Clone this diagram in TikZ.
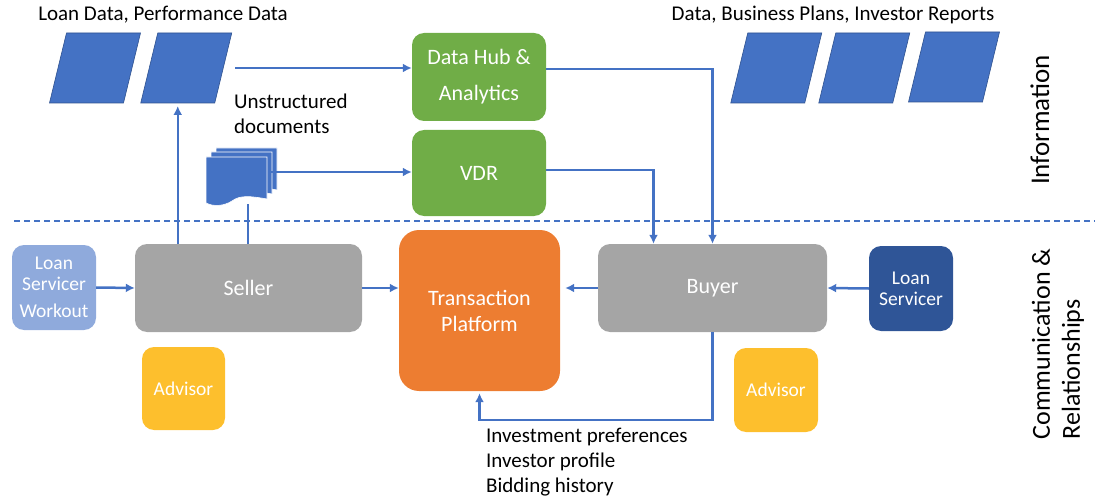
\documentclass[tikz,border=0pt]{standalone}
\usepackage{fontspec}
\setmainfont{Carlito}
\usepackage{tikz}
\usetikzlibrary{arrows.meta,positioning,calc}

\definecolor{msblue}{HTML}{4472C4}
\definecolor{msblueline}{HTML}{2F528F}
\definecolor{msgreen}{HTML}{70AD47}
\definecolor{msgrey}{HTML}{A5A5A5}
\definecolor{msorange}{HTML}{ED7D31}
\definecolor{msgold}{HTML}{FDBF2D}
\definecolor{mslight}{HTML}{8FAADC}
\definecolor{msdark}{HTML}{2F5597}

\begin{document}
\begin{tikzpicture}[
      x=1pt, y=-1pt,
      box/.style = {
        rectangle, rounded corners=12pt, text=white, align=center,
        inner sep=0pt, font=\fontsize{22pt}{26pt}\selectfont,
      },
      smallbox/.style = {
        box, minimum width=84pt, minimum height=85pt,
        font=\fontsize{19.5pt}{21pt}\selectfont,
      },
      datasheet/.pic = {
        \fill[msblue, draw=msblueline, line width=.6pt]
          (-28.5,-35) -- (45.5,-35) -- (28.5,35) -- (-45.5,35) -- cycle;
        \coordinate (-south) at (-8.5,35);
        \coordinate (-east) at (37,0);
      },
      caption/.style = {
        font=\fontsize{21pt}{25pt}\selectfont, inner sep=0pt,
      },
      flow/.style = {
        msblue, line width=2.5pt, -{Latex[length=9pt,width=9pt]},
      },
      plain/.style = {
        msblue, line width=2.5pt,
      },
    ]
    \useasboundingbox (0,0) rectangle (1101,500);

    % information layer
    \pic (ld1) at (95,68) {datasheet};
    \pic (ld2) at (186.25,68) {datasheet};
    \node[caption] (ldtext) at (163,15) {Loan Data, Performance Data};

    \pic (bp1) at (776.25,68) {datasheet};
    \pic (bp2) at (864.25,68) {datasheet};
    \pic (bp3) at (954,67) {datasheet};
    \node[caption] (bptext) at (833,15) {Data, Business Plans, Investor Reports};

    \node[box, fill=msgreen, minimum width=134pt, minimum height=88pt] (hub) at (479,77)
      {Data Hub \&\\[10pt] Analytics};
    \node[box, fill=msgreen, minimum width=134pt, minimum height=86pt] (vdr) at (479,173) {VDR};

    \node[caption, align=left, anchor=west] (udtext) at (234,114) {Unstructured\\documents};

    % stacked documents
    \foreach \dx/\dy in {10/-9, 5/-5, 0/0} {
      \fill[msblue, draw=white, line width=.6pt, shift={(\dx,\dy)}]
        (206,157) -- (267,157) -- (267,199)
        .. controls (250,196) and (240,195) .. (232,201)
        .. controls (224,206) and (214,207) .. (206,203) -- cycle;
    }
    \coordinate (docsout) at (268,172);
    \coordinate (docsbot) at (248,204);

    \node[caption, rotate=90] (info) at (1040,120) {\fontsize{27pt}{30pt}\selectfont Information};

    \draw[msblue, line width=1.3pt, dash pattern=on 6pt off 4pt] (14,221) -- (1095,221);

    % communication layer
    \node[smallbox, fill=mslight] (lsw) at (54,287.5) {Loan\\Servicer\\[6pt]Workout};
    \node[box, fill=msgrey, minimum width=227pt, minimum height=88pt] (seller) at (248.5,288) {Seller};
    \node[box, fill=msorange, rounded corners=20pt, minimum width=161pt, minimum height=161pt]
      (tp) at (479.5,310.5) {Transaction\\Platform};
    \node[box, fill=msgrey, minimum width=229pt, minimum height=88pt] (buyer) at (712.5,288) {Buyer};
    \node[smallbox, fill=msdark] (lsb) at (911,288.5) {Loan\\Servicer};
    \node[smallbox, fill=msgold, minimum width=83pt, minimum height=83pt] (adv1) at (183.5,388.5) {Advisor};
    \node[smallbox, fill=msgold, minimum width=84pt, minimum height=84pt] (adv2) at (776,390) {Advisor};

    \node[caption, rotate=90, align=left, font=\fontsize{26pt}{30pt}\selectfont]
      (comm) at (1058,344) {Communication \&\\Relationships};

    \node[caption, align=left, anchor=north west] (prefs) at (486,428)
      {Investment preferences\\Investor profile\\Bidding history};

    % connectors
    \draw[flow] ([xshift=12pt]ld2-east) -- (ld2-east -| hub.west);
    \draw[flow] (docsout) -- (docsout -| vdr.west);
    \draw[plain] (docsbot) -- (docsbot |- seller.north);
    \draw[flow] (seller.north -| ld2-south) -- ([yshift=-3pt]ld2-south);
    \draw[flow] ([yshift=8pt]hub.east) -| (buyer.north);
    \draw[flow] ([yshift=3pt]vdr.east) -| ([xshift=-59pt]buyer.north);
    \draw[flow] (lsw.east) -- (seller.west);
    \draw[flow] (seller.east) -- (seller.east -| tp.west);
    \draw[flow] (buyer.west) -- ([xshift=5pt]buyer.west -| tp.east);
    \draw[flow] (lsb.west) -- (buyer.east);
    \draw[flow] (buyer.south) -- ++(0,88) -| ([yshift=-2pt]tp.south);
  \end{tikzpicture}
\end{document}
